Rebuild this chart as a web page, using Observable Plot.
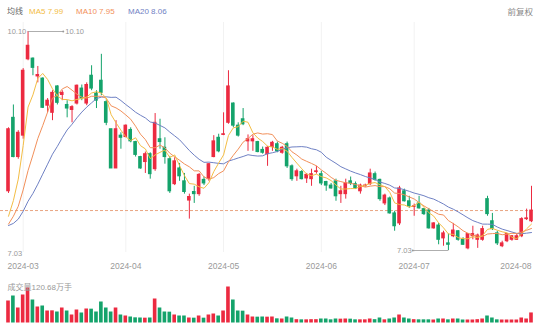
<!DOCTYPE html>
<html><head><meta charset="utf-8">
<script src="https://cdn.jsdelivr.net/npm/d3@7"></script>
<script src="https://cdn.jsdelivr.net/npm/@observablehq/plot@0.6"></script>
<style>
body{margin:0;background:#fff;font-family:"Liberation Sans",Arial,"Noto Sans CJK SC",sans-serif;}
#wrap{position:relative;width:550px;height:327px;overflow:hidden;}
#legend{position:relative;height:22px;font-size:8px;line-height:10px;}
#legend span{position:absolute;top:7px;white-space:nowrap;}
svg{display:block;overflow:visible}
</style></head><body>
<div id="wrap"><div id="legend"></div><div id="price"></div><div id="vol"></div></div>
<script>
// ---- data ----
const tickIndex = [3, 24, 44, 64, 83, 106];
const tickLabels = ["2024-03", "2024-04", "2024-05", "2024-06", "2024-07", "2024-08"];
const legendNames = ["MA5", "MA10", "MA20"];
const legendValues = [7.99, 7.95, 8.06];

const open = [7.86,8.89,8.34,8.64,9.71,9.72,9.47,9.44,9.06,8.96,
9.33,9.21,9.07,9.00,9.09,9.30,9.09,9.48,9.23,9.41,
9.11,8.73,8.18,8.64,8.62,8.72,8.55,8.34,8.27,8.38,
8.17,8.59,8.47,8.31,7.96,8.18,8.00,7.73,7.85,7.82,
8.02,8.03,8.34,8.61,8.65,8.82,9.09,8.78,8.87,8.56,
8.56,8.55,8.44,8.38,8.48,8.52,8.40,8.52,8.21,8.07,
8.13,8.04,8.03,8.13,8.10,7.99,7.94,8.00,7.82,7.82,
8.00,7.96,7.86,7.93,7.96,8.10,8.02,7.69,7.76,7.55,
7.41,7.86,7.72,7.64,7.69,7.61,7.59,7.34,7.38,7.20,
7.13,7.23,7.30,7.18,7.06,7.23,7.18,7.18,7.75,7.44,
7.27,7.09,7.16,7.18,7.18,7.23,7.47,7.44];
const close = [8.73,8.34,8.68,9.55,9.90,9.59,9.49,9.03,9.13,9.24,
9.10,9.24,9.02,9.04,9.34,9.16,9.35,9.30,9.13,9.24,
8.82,8.18,8.73,8.61,8.78,8.56,8.37,8.18,8.38,8.10,
8.82,8.55,8.34,7.86,8.28,8.07,7.85,7.78,7.82,8.09,
7.97,8.24,8.56,8.42,8.66,9.33,8.78,8.64,8.80,8.59,
8.59,8.41,8.40,8.47,8.54,8.42,8.47,8.21,8.03,8.14,
8.03,8.09,8.10,8.14,7.97,7.94,7.90,7.79,7.86,7.97,
7.97,7.90,7.94,7.94,8.11,8.02,7.75,7.80,7.55,7.37,
7.90,7.72,7.65,7.65,7.62,7.54,7.34,7.41,7.18,7.27,
7.11,7.31,7.18,7.11,7.26,7.26,7.24,7.33,7.54,7.33,
7.13,7.13,7.26,7.23,7.23,7.47,7.48,7.59];
const high = [8.75,9.07,8.71,9.58,10.10,9.73,9.61,9.45,9.16,9.27,
9.34,9.27,9.13,9.06,9.35,9.35,9.38,9.62,9.27,9.78,
9.14,8.73,8.85,8.68,8.79,8.75,8.56,8.35,8.41,8.40,
8.95,8.87,8.61,8.35,8.33,8.25,8.11,7.82,7.93,8.11,
8.06,8.25,8.64,8.66,8.96,9.55,9.10,8.82,9.02,8.65,
8.64,8.56,8.48,8.49,8.56,8.55,8.49,8.55,8.23,8.17,
8.15,8.11,8.17,8.21,8.14,8.00,7.97,8.03,7.93,8.03,
8.06,7.99,7.96,7.96,8.17,8.13,8.03,7.82,7.78,7.58,
7.93,7.89,7.79,7.68,7.79,7.62,7.62,7.42,7.41,7.30,
7.26,7.41,7.31,7.21,7.27,7.37,7.26,7.37,7.79,7.55,
7.30,7.16,7.27,7.24,7.26,7.49,7.61,7.93];
const low = [7.83,8.33,8.31,8.59,9.69,9.48,9.38,9.02,8.96,8.85,
9.07,9.13,8.89,8.82,9.07,9.13,9.06,9.27,9.02,9.20,
8.78,8.18,8.18,8.45,8.61,8.54,8.34,8.17,8.11,8.03,
8.14,8.45,8.24,7.83,7.94,8.00,7.82,7.47,7.69,7.79,
7.94,8.00,8.33,8.40,8.64,8.80,8.75,8.62,8.78,8.42,
8.42,8.40,8.38,8.21,8.42,8.40,8.38,8.18,8.00,8.00,
8.02,7.97,7.93,8.10,7.94,7.86,7.89,7.72,7.69,7.75,
7.94,7.89,7.82,7.92,7.94,8.00,7.72,7.66,7.54,7.30,
7.38,7.71,7.62,7.51,7.61,7.52,7.33,7.33,7.11,7.09,
7.03,7.21,7.16,7.10,7.04,7.18,7.06,7.16,7.51,7.31,
7.10,7.07,7.14,7.16,7.17,7.21,7.45,7.42];
// volume, 万手
const volume = [264,324,180,336,420,276,192,204,144,146,
132,180,144,96,156,120,168,166,132,252,
180,132,180,96,84,72,62,60,58,60,
288,180,132,130,96,84,84,60,58,84,
58,96,108,84,144,432,276,144,142,96,
72,70,72,70,72,50,48,72,60,40,
38,38,40,40,48,48,38,48,46,48,
46,38,38,38,48,40,60,38,48,60,
96,60,48,40,38,38,38,36,48,48,
38,48,48,36,36,36,40,48,84,60,
38,36,36,36,36,60,48,120.68];
// moving averages before a full window is visible
const ma5Head = [7.51, 7.73, 8.03, 8.50];
const ma10Head = [7.40, 7.51, 7.65, 7.88, 8.15, 8.37, 8.60, 8.78, 8.97];
const ma20Head = [7.38, 7.41, 7.47, 7.58, 7.72, 7.83, 7.96, 8.10, 8.24, 8.38, 8.49, 8.61, 8.72, 8.80, 8.89, 8.97, 9.04, 9.10, 9.16];

// ---- build ----
const RED = "#ec2a40", GREEN = "#14a36b";
const C5 = "#f3bd45", C10 = "#f2905a", C20 = "#6f81c4";
const N = close.length;
const idx = d3.range(N);
const candles = idx.map(i => ({i, o: open[i], c: close[i], h: high[i], l: low[i], v: volume[i],
  col: close[i] >= open[i] ? RED : GREEN}));
function ma(n, head) {
  return idx.map(i => ({i, v: i < n - 1 ? head[i] : d3.mean(close.slice(i - n + 1, i + 1))}));
}
const m5 = ma(5, ma5Head), m10 = ma(10, ma10Head), m20 = ma(20, ma20Head);

const hiI = d3.maxIndex(high), loI = d3.minIndex(low);
const hiV = high[hiI], loV = low[loI];
const xOpt = {type: "linear", domain: [0, N - 1], range: [8, 531], axis: null};
const font = '"Liberation Sans",Arial,"Noto Sans CJK SC",sans-serif';

// legend
const lg = document.getElementById("legend");
const items = [["均线", "#666", 7], [legendNames[0] + " " + legendValues[0].toFixed(2), C5, 29],
  [legendNames[1] + " " + legendValues[1].toFixed(2), C10, 76], [legendNames[2] + " " + legendValues[2].toFixed(2), C20, 128]];
for (const [t, c, x] of items) { const s = document.createElement("span"); s.textContent = t; s.style.color = c; s.style.left = x + "px"; lg.appendChild(s); }
const fq = document.createElement("span"); fq.textContent = "前复权"; fq.style.color = "#888"; fq.style.right = "17px"; fq.style.fontSize = "8.5px"; lg.appendChild(fq);

const price = Plot.plot({
  width: 550, height: 253, marginTop: 0, marginBottom: 23, marginLeft: 0, marginRight: 17,
  x: xOpt,
  y: {domain: [loV, hiV], range: [228, 9], axis: null},
  color: {type: "identity"},
  style: {fontFamily: font, fontSize: "8px", background: "transparent"},
  marks: [
    Plot.ruleX(tickIndex.slice(0, -1), {stroke: "#f2f2f2"}),
    Plot.ruleY([close[N - 1]], {stroke: "#e8a482", strokeDasharray: "3,2", strokeWidth: 1}),
    Plot.ruleX(candles, {x: "i", y1: "l", y2: "h", stroke: "col", strokeWidth: 1}),
    Plot.rect(candles, {x1: d => d.i - 0.37, x2: d => d.i + 0.37, y1: "o", y2: "c", fill: "col", insetTop: -0.5, insetBottom: -0.5}),
    Plot.line(m20, {x: "i", y: "v", stroke: C20, strokeWidth: 1}),
    Plot.line(m10, {x: "i", y: "v", stroke: C10, strokeWidth: 1}),
    Plot.line(m5, {x: "i", y: "v", stroke: C5, strokeWidth: 1}),
    // high / low markers
    Plot.link([hiV], {x1: hiI, x2: hiI + 7.2, y1: d => d, y2: d => d, stroke: "#999", strokeWidth: 0.8}),
    Plot.dot([hiV], {x: hiI + 7.2, y: d => d, r: 1, fill: "#999"}),
    Plot.text([hiV], {x: hiI + 7.2, y: d => d, text: d => d.toFixed(2), textAnchor: "start", dx: 2, fill: "#999", fontSize: 7.5}),
    Plot.link([loV], {x1: loI, x2: loI - 7.3, y1: d => d, y2: d => d, stroke: "#999", strokeWidth: 0.8}),
    Plot.dot([loV], {x: loI - 7.3, y: d => d, r: 1, fill: "#999"}),
    Plot.text([loV], {x: loI - 7.3, y: d => d, text: d => d.toFixed(2), textAnchor: "end", dx: -1, fill: "#999", fontSize: 7.5}),
    // axis extremes
    Plot.text([hiV], {frameAnchor: "left", y: d => d, text: d => d.toFixed(2), textAnchor: "start", dx: 7, fill: "#999", fontSize: 7.5}),
    Plot.text([loV], {frameAnchor: "left", y: d => d, text: d => d.toFixed(2), textAnchor: "start", dx: 7, dy: 3, fill: "#999", fontSize: 7.5}),
    // date labels
    Plot.text(tickIndex.slice(0, -1), {x: d => d, frameAnchor: "bottom", dy: 16, text: (d, k) => tickLabels[k], fill: "#999", fontSize: 8.5}),
    Plot.text([tickLabels[tickLabels.length - 1]], {x: N - 1, frameAnchor: "bottom", dy: 16, text: d => d, textAnchor: "end", fill: "#999", fontSize: 8.5})
  ]
});
document.getElementById("price").appendChild(price);

const vol = Plot.plot({
  width: 550, height: 52, marginTop: 0, marginBottom: 4.5, marginLeft: 0, marginRight: 17,
  x: xOpt,
  y: {domain: [0, d3.max(volume)], range: [47.5, 11.5], axis: null},
  color: {type: "identity"},
  style: {fontFamily: font, fontSize: "8px", background: "transparent"},
  marks: [
    Plot.rect(candles, {x1: d => d.i - 0.37, x2: d => d.i + 0.37, y1: 0, y2: "v", fill: "col"}),
    Plot.text(["成交量" + volume[N - 1].toFixed(2) + "万手"], {frameAnchor: "top-left", dx: 7, dy: 9, text: d => d, textAnchor: "start", fill: "#999", fontSize: 8})
  ]
});
document.getElementById("vol").appendChild(vol);
</script>
</body></html>
